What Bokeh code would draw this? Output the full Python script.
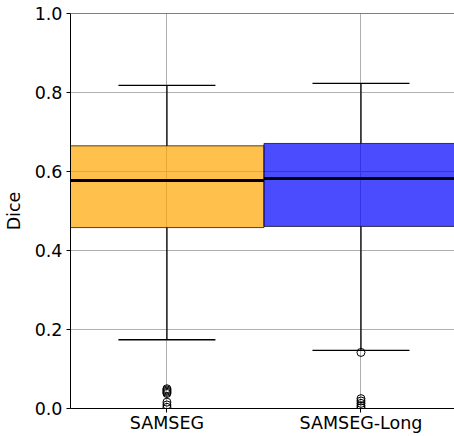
from bokeh.plotting import figure
from bokeh.models import Range1d, FixedTicker, Span
from bokeh.embed import file_html
from bokeh.resources import INLINE

# ---- data ----
categories = ["SAMSEG", "SAMSEG-Long"]
positions = [1, 2]
q1 = [0.458, 0.461]
median = [0.577, 0.582]
q3 = [0.665, 0.671]
whisker_low = [0.174, 0.147]
whisker_high = [0.818, 0.823]
outliers_samseg = [0.050, 0.047, 0.044, 0.041, 0.038, 0.016, 0.009, 0.003]
outliers_long = [0.142, 0.025, 0.019, 0.013, 0.007, 0.002]
colors = ["#FFA500", "#0000FF"]
y_ticks = [0.0, 0.2, 0.4, 0.6, 0.8, 1.0]

FONT = "DejaVu Sans"
FS = "17.5px"

p = figure(width=454, height=436, output_backend="svg", toolbar_location=None,
           x_range=Range1d(0.503, 2.482), y_range=Range1d(0, 1),
           min_border_left=68, min_border_right=0, min_border_top=13, min_border_bottom=28)
p.outline_line_color = None
p.background_fill_color = "white"
p.border_fill_color = "white"

# grids
p.xgrid.ticker = FixedTicker(ticks=positions)
p.ygrid.ticker = FixedTicker(ticks=y_ticks)
for g in (p.xgrid, p.ygrid):
    g.grid_line_color = "#b0b0b0"
    g.grid_line_width = 1

# axes
p.xaxis.ticker = FixedTicker(ticks=positions)
p.xaxis.major_label_overrides = {pos: c for pos, c in zip(positions, categories)}
p.yaxis.ticker = FixedTicker(ticks=y_ticks)
p.yaxis.major_label_overrides = {t: f"{t:.1f}" for t in y_ticks}
p.yaxis.axis_label = "Dice"
for ax in (p.xaxis, p.yaxis):
    ax.major_label_text_font = FONT
    ax.major_label_text_font_size = FS
    ax.major_label_text_color = "black"
    ax.axis_label_text_font = FONT
    ax.axis_label_text_font_size = FS
    ax.axis_label_text_font_style = "normal"
    ax.axis_label_text_color = "black"
    ax.axis_line_color = "black"
    ax.axis_line_width = 1
    ax.major_tick_line_color = "black"
    ax.major_tick_out = 4
    ax.major_tick_in = 0
    ax.minor_tick_line_color = None
p.xaxis.major_label_standoff = 0
p.yaxis.major_label_standoff = 4
p.yaxis.axis_label_standoff = 8

# top spine
p.add_layout(Span(location=1.0, dimension="width", line_color="black", line_width=1))

# boxes
p.vbar(x=positions, width=1.0, bottom=q1, top=q3, fill_color=colors, fill_alpha=0.7,
       line_color="black", line_alpha=0.7, line_width=1)

# whiskers
p.segment(x0=positions, y0=q3, x1=positions, y1=whisker_high, line_color="black", line_width=1.3)
p.segment(x0=positions, y0=q1, x1=positions, y1=whisker_low, line_color="black", line_width=1.3)
# caps
p.segment(x0=[x - 0.25 for x in positions], y0=whisker_high,
          x1=[x + 0.25 for x in positions], y1=whisker_high, line_color="black", line_width=1.3)
p.segment(x0=[x - 0.25 for x in positions], y0=whisker_low,
          x1=[x + 0.25 for x in positions], y1=whisker_low, line_color="black", line_width=1.3)
# medians
p.segment(x0=[x - 0.5 for x in positions], y0=median,
          x1=[x + 0.5 for x in positions], y1=median, line_color="black", line_width=3)

# outliers
p.scatter(x=[positions[0]] * len(outliers_samseg), y=outliers_samseg, size=8,
          fill_color=None, line_color="black", line_width=1)
p.scatter(x=[positions[1]] * len(outliers_long), y=outliers_long, size=8,
          fill_color=None, line_color="black", line_width=1)

open("out.html", "w").write(file_html(p, INLINE))
